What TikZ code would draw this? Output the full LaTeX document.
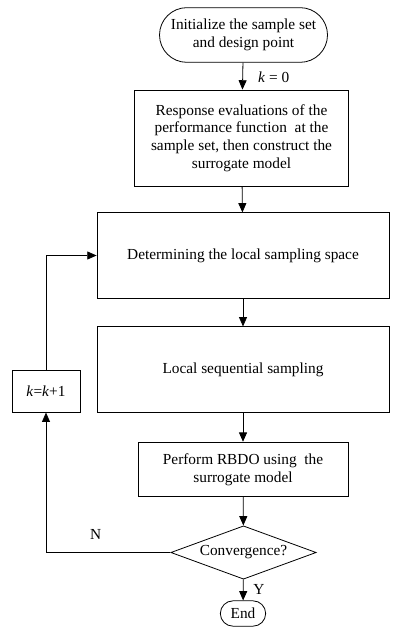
\documentclass[tikz,border=0pt]{standalone}
\usepackage{fontspec}
\setmainfont{Liberation Serif}
\usepackage{tikz}
\usetikzlibrary{arrows.meta, shapes.misc, shapes.geometric}

\begin{document}
\begin{tikzpicture}[x=0.75pt, y=-0.75pt, line width=0.6pt,
    font=\fontsize{11.5}{13.2}\selectfont,
    box/.style={draw, rectangle, align=center, inner sep=2pt},
    term/.style={draw, rounded rectangle, align=center, inner sep=1pt},
    test/.style={draw, diamond, inner sep=0pt, shape aspect=2.74},
    arr/.style={-{Triangle[length=7pt, width=6pt]}}]
    \useasboundingbox (0, 0) rectangle (405, 630);

    \node[term, minimum width=128pt, minimum height=41pt] (start) at (243.5, 35) {Initialize the sample set\\and design point};
    \node[box, minimum width=161pt, minimum height=72pt] (eval) at (241.5, 138) {Response evaluations of the\\performance function\ \ at the\\sample set, then construct the\\surrogate model};
    \node[box, minimum width=219pt, minimum height=64pt] (local) at (243, 255.5) {Determining the local sampling space};
    \node[box, minimum width=219pt, minimum height=64pt] (seq) at (243, 369.5) {Local sequential sampling};
    \node[box, minimum width=51pt, minimum height=31pt] (kinc) at (46, 391.5) {\textit{k}=\textit{k}+1};
    \node[box, minimum width=157.5pt, minimum height=41pt] (rbdo) at (243, 469.5) {Perform RBDO using\ \ the\\surrogate model};
    \node[test, minimum width=109pt, minimum height=40pt] (conv) at (243.5, 552.5) {Convergence?};
    \node[term, minimum width=36pt, minimum height=19pt] (stop) at (243, 613.5) {End};

    \draw[arr] (start) -- (eval) node[pos=0.55, right=8pt] {\textit{k} = 0};
    \draw[arr] (eval) -- (local);
    \draw[arr] (local) -- (seq);
    \draw[arr] (seq) -- (rbdo);
    \draw[arr] (rbdo) -- (conv);
    \draw[arr] (conv) -- (stop) node[midway, right=4pt] {Y};
    \draw[arr] (conv.west) -| (kinc.south) node[pos=0.3, above=6pt] {N};
    \draw[arr] (kinc.north) |- (local.west);
\end{tikzpicture}
\end{document}
